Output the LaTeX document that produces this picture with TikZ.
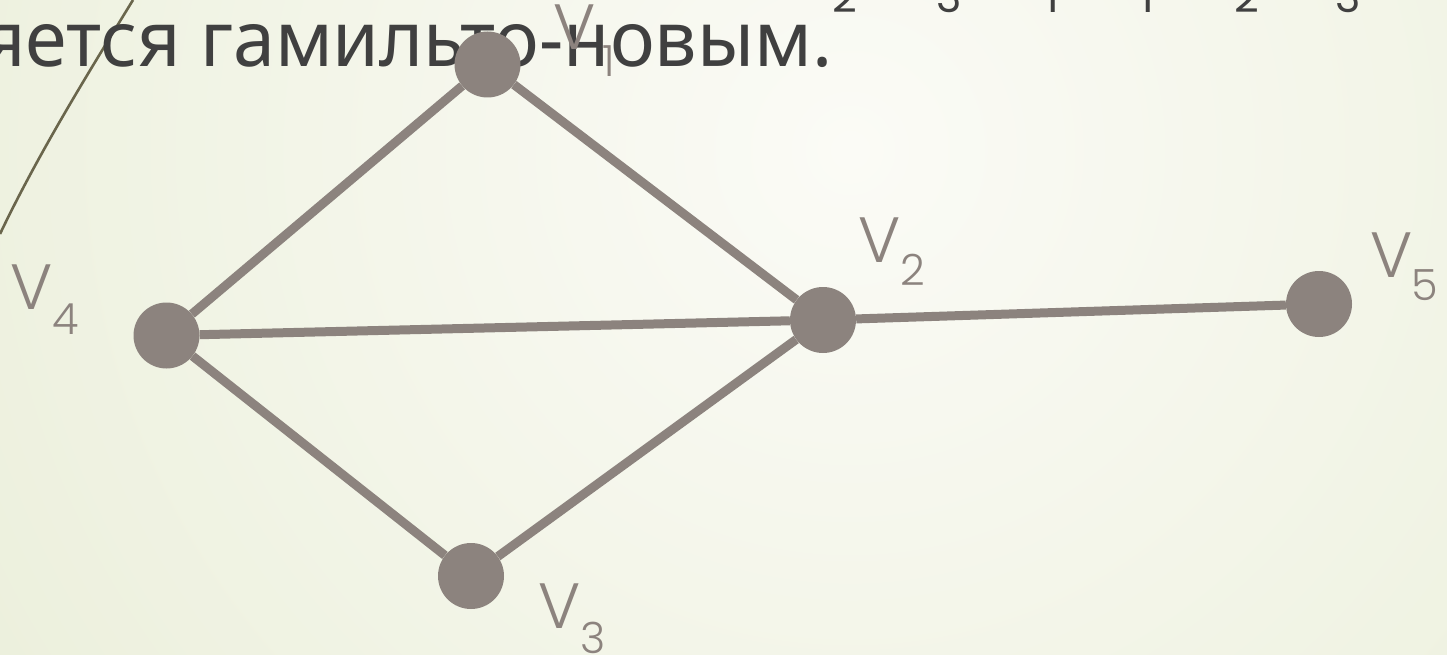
\documentclass[tikz,border=0pt]{standalone}
\usepackage{fontspec}
\newfontfamily\txtfont{Noto Sans}
\newfontfamily\labfont{Poppins Light}
\newfontfamily\digfont{Poppins}
\definecolor{bgin}{HTML}{FBFBF6}
\definecolor{bgout}{HTML}{E0E7C8}
\definecolor{gcol}{HTML}{8C837E}
\definecolor{tcol}{HTML}{404040}
\definecolor{arcc}{HTML}{6A664C}
\begin{document}
\begin{tikzpicture}[x=1pt,y=-1pt,
  vert/.style={circle,fill=gcol,minimum size=66pt,inner sep=0pt},
  edge/.style={draw=gcol,line width=9pt},
  vlab/.style={font=\labfont\fontsize{64}{64}\selectfont,text=gcol,anchor=base,inner sep=0pt},
  vsub/.style={font=\labfont\fontsize{43}{43}\selectfont,text=gcol,anchor=base,inner sep=0pt},
  tsub/.style={font=\digfont\fontsize{43}{43}\selectfont,text=tcol,anchor=base,inner sep=0pt}]
\useasboundingbox (0,0) rectangle (1447,655);
\clip (0,0) rectangle (1447,655);
\shade[inner color=bgin,outer color=bgout] (850,150) circle (1800);
% decorative arc
\draw[arcc,line width=2.6pt] (133,0) .. controls (95,62) and (40,150) .. (0,234);
% title line (cut)
\node[anchor=base west,inner sep=0pt,text=tcol] (title) at (-18,67)
  {\resizebox{850pt}{42pt}{\txtfont яется гамильто-новым.}};
\node[tsub] (s1) at (845,13) {2};
\node[tsub] (s2) at (949,13) {3};
\node[tsub] (s3) at (1052,13) {1};
\node[tsub] (s4) at (1147,13) {1};
\node[tsub] (s5) at (1247,13) {2};
\node[tsub] (s6) at (1348,13) {3};
% vertices
\node[vert] (v1) at (487.5,64.5) {};
\node[vert] (v2) at (823,320) {};
\node[vert] (v3) at (471,576) {};
\node[vert] (v4) at (166.5,335.5) {};
\node[vert] (v5) at (1319,304) {};
% edges
\draw[edge] (v1) -- (v2);
\draw[edge] (v1) -- (v4);
\draw[edge] (v4) -- (v2);
\draw[edge] (v4) -- (v3);
\draw[edge] (v3) -- (v2);
\draw[edge] (v2) -- (v5);
% labels
\node[vlab] (l1) at (575,50) {V};
\node[vsub] (n1) at (609,77) {1};
\node[vlab] (l2) at (880,262) {V};
\node[vsub] (n2) at (913,285) {2};
\node[vlab] (l3) at (560,628) {V};
\node[vsub] (n3) at (593,653) {3};
\node[vlab] (l4) at (32,309) {V};
\node[vsub] (n4) at (66,334) {4};
\node[vlab] (l5) at (1392,277) {V};
\node[vsub] (n5) at (1425,300) {5};
\end{tikzpicture}
\end{document}
